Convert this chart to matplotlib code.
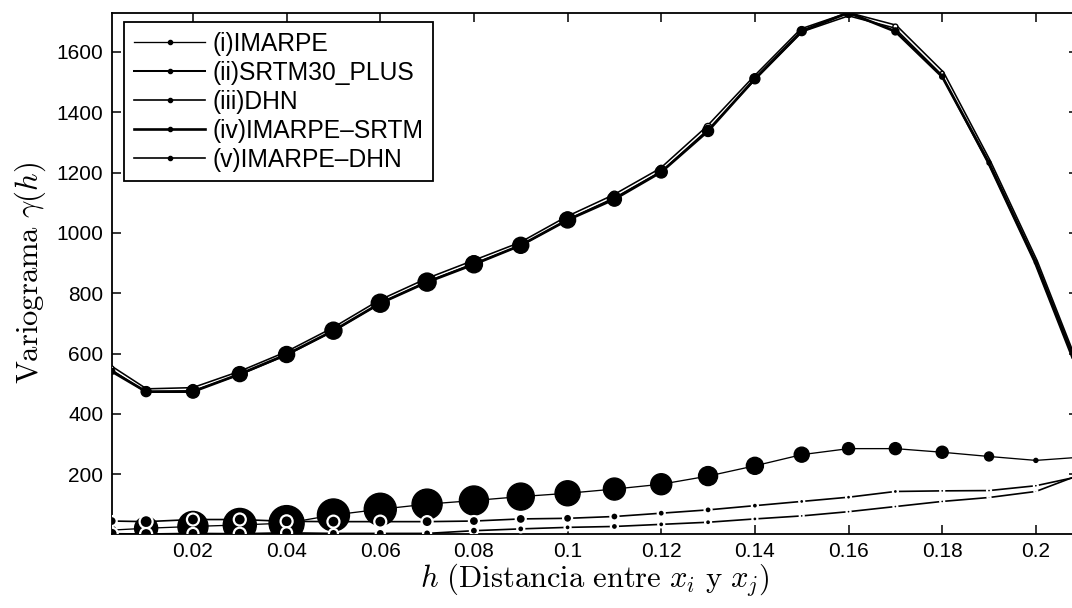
import matplotlib
matplotlib.use('Agg')
import matplotlib.pyplot as plt
from matplotlib.lines import Line2D
import numpy as np

plt.rcParams['font.family'] = ['Liberation Sans', 'DejaVu Sans']
plt.rcParams['mathtext.fontset'] = 'cm'

# distancias (lags)
h = [0.00265, 0.01, 0.02, 0.03, 0.04, 0.05, 0.06, 0.07, 0.08, 0.09, 0.10,
     0.11, 0.12, 0.13, 0.14, 0.15, 0.16, 0.17, 0.18, 0.19, 0.20, 0.209]

# variogramas
srtm = [552, 478, 482, 536, 601, 681, 773, 844, 904, 964, 1050,
        1122, 1210, 1350, 1515, 1672, 1725, 1684, 1530, 1236, 905, 550]
imarpe_srtm = [541, 474, 474, 532, 597, 676, 767, 837, 896, 959, 1043,
               1112, 1202, 1338, 1511, 1669, 1730, 1668, 1518, 1232, 902, 550]
imarpe = [15, 21, 27, 32, 38, 65, 84, 101, 113, 126, 137,
          151, 167, 194, 228, 265, 285, 285, 273, 259, 246, 256]
imarpe_dhn = [45, 43, 50, 50, 44, 43, 43, 43, 45, 52, 54,
              60, 71, 82, 96, 110, 124, 143, 145, 146, 162, 192]
dhn = [3, 2, 4, 3, 6, 4, 4, 4, 13, 19, 24,
       27, 34, 41, 52, 62, 76, 93, 110, 123, 143, 196]

# numero de pares por lag (escala relativa, area del marcador)
pares_top = [36, 100, 169, 225, 256, 289, 324, 324, 289, 256, 256,
             196, 144, 121, 100, 81, 81, 49, 25, 16, 9, 0]
pares_imarpe = [64, 529, 900, 1089, 1225, 1024, 1024, 900, 841, 729, 625,
                484, 441, 361, 289, 225, 144, 144, 144, 81, 16, 0]
pares_imarpe_dhn = [100, 169, 144, 144, 144, 144, 144, 121, 100, 100, 81,
                    64, 49, 49, 36, 25, 25, 25, 16, 16, 16, 0]
pares_dhn = [144, 144, 121, 144, 121, 81, 81, 64, 64, 49, 36,
             49, 36, 36, 25, 16, 16, 16, 16, 9, 9, 0]

etiquetas = ['(i)IMARPE', '(ii)SRTM30_PLUS', '(iii)DHN', '(iv)IMARPE\u2013SRTM', '(v)IMARPE\u2013DHN']
anchos = [0.95, 1.45, 1.2, 1.9, 1.2]

k = 0.52  # px^2 -> pt^2

fig = plt.figure(figsize=(10.72, 6.08), dpi=100)
ax = fig.add_axes([0.1042, 0.1217, 0.9014, 0.8574])

# curvas superiores
ax.plot(h, srtm, color='black', lw=3.4, zorder=3)
ax.plot(h, srtm, color='white', lw=1.1, zorder=3.1)
ax.scatter(h, srtm, s=[k * p * 0.5 for p in pares_top], facecolor='white',
           edgecolor='black', lw=1.0, zorder=3.2)
ax.plot(h, imarpe_srtm, color='black', lw=2.0, zorder=4)
ax.scatter(h, imarpe_srtm, s=[k * p for p in pares_top], color='black', zorder=4.1)

# curvas inferiores
ax.plot(h, imarpe, color='black', lw=0.95, zorder=5)
ax.scatter(h, imarpe, s=[k * p for p in pares_imarpe], color='black', zorder=5.1)
ax.plot(h, imarpe_dhn, color='black', lw=1.2, zorder=6)
ax.scatter(h, imarpe_dhn, s=[k * p for p in pares_imarpe_dhn], facecolor='black',
           edgecolor='white', lw=1.6, zorder=6.1)
ax.plot(h, dhn, color='black', lw=1.2, zorder=7)
ax.scatter(h, dhn, s=[k * p for p in pares_dhn], facecolor='black',
           edgecolor='white', lw=1.6, zorder=7.1)

ax.set_xlim(h[0], h[-1])
ax.set_ylim(2, 1730)
xt = [0.02, 0.04, 0.06, 0.08, 0.1, 0.12, 0.14, 0.16, 0.18, 0.2]
ax.set_xticks(xt)
ax.set_xticklabels(['%g' % v for v in xt])
ax.set_yticks([200, 400, 600, 800, 1000, 1200, 1400, 1600])
ax.tick_params(direction='in', length=6.5, width=1.1, labelsize=15,
               top=True, right=True, pad=6)
for s in ax.spines.values():
    s.set_linewidth(1.3)

ax.set_xlabel(r'$h\ (\mathrm{Distancia\ entre}\ x_i\ \mathrm{y}\ x_j)$', fontsize=22, labelpad=0)
ax.set_ylabel(r'$\mathrm{Variograma}\ \gamma(h)$', fontsize=22, labelpad=6)

manijas = [Line2D([0], [0], color='black', lw=w, marker='o', markersize=3) for w in anchos]
leg = ax.legend(manijas, etiquetas, loc='upper left', bbox_to_anchor=(0.0128, 0.982),
                borderaxespad=0, fontsize=17.7, frameon=True, fancybox=False,
                edgecolor='black', handlelength=2.9, handletextpad=0.3,
                labelspacing=0.2, borderpad=0.4)
leg.get_frame().set_linewidth(1.3)
leg.get_frame().set_alpha(1)
leg.set_zorder(10)

fig.savefig('out.png', dpi=100)
